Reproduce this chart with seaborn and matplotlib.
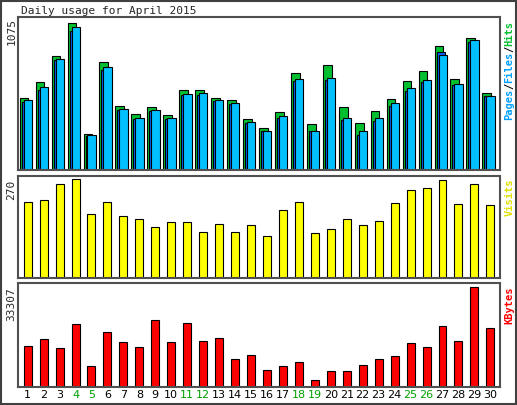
import numpy as np
import pandas as pd
import matplotlib
matplotlib.use("Agg")
import matplotlib.pyplot as plt
import seaborn as sns

days = list(range(1, 31))
weekend = [4, 5, 11, 12, 18, 19, 25, 26]
hits = [526, 645, 830, 1075, 267, 786, 467, 408, 460, 400, 586, 586, 526, 512, 371,
        311, 423, 707, 334, 764, 460, 341, 432, 519, 652, 726, 904, 667, 964, 563]
files = [511, 608, 815, 1045, 259, 756, 445, 378, 437, 378, 556, 563, 511, 489, 348,
         289, 393, 667, 282, 675, 378, 289, 378, 489, 600, 660, 838, 630, 949, 541]
pages = [497, 586, 803, 1016, 252, 734, 440, 371, 430, 371, 549, 549, 504, 482, 341,
         289, 380, 652, 282, 660, 363, 259, 355, 465, 578, 647, 865, 623, 934, 541]
visits = [207, 213, 256, 270, 173, 207, 168, 159, 139, 153, 151, 125, 148, 125, 145,
          114, 185, 207, 122, 134, 159, 145, 156, 205, 239, 244, 267, 202, 256, 199]
kbytes = [13677, 16132, 12976, 21042, 7014, 18236, 15080, 13327, 22445, 15080, 21393,
          15431, 16483, 9469, 10872, 5611, 7014, 8417, 2455, 5261, 5261, 7365, 9469,
          10521, 14729, 13327, 20341, 15431, 33307, 19639]

sns.set_style("white")
mono = "DejaVu Sans Mono"

fig = plt.figure(figsize=(5.17, 4.05), dpi=100)
fig.patch.set_facecolor("white")
fig.patches.append(plt.Rectangle((0.002, 0.003), 0.996, 0.994, transform=fig.transFigure,
                                 fill=False, edgecolor="#404040", linewidth=1.5))

ax1 = fig.add_axes([0.035, 0.580, 0.932, 0.378])
ax2 = fig.add_axes([0.035, 0.314, 0.932, 0.252])
ax3 = fig.add_axes([0.035, 0.044, 0.932, 0.257])

x = np.arange(30)
ax1.bar(x - 0.5, hits, width=0.55, align="edge", color="#00C030", edgecolor="black", linewidth=0.8)
ax1.bar(x - 0.375, pages, width=0.52, align="edge", color="#0060FF", edgecolor="black", linewidth=0.8)
ax1.bar(x - 0.25, files, width=0.52, align="edge", color="#00C0FF", edgecolor="black", linewidth=0.8)
ax1.set_ylim(0, 1075 * 1.04)

df = pd.DataFrame({"day": days, "visits": visits, "kbytes": kbytes})
sns.barplot(data=df, x="day", y="visits", ax=ax2, color="#FFFF00", saturation=1,
            width=0.5, edgecolor="black", linewidth=0.8)
ax2.set_ylim(0, 270 * 1.03)
sns.barplot(data=df, x="day", y="kbytes", ax=ax3, color="#FF0000", saturation=1,
            width=0.5, edgecolor="black", linewidth=0.8)
ax3.set_ylim(0, 33307 * 1.04)

for ax in (ax1, ax2, ax3):
    ax.set_xlim(-0.6, 29.6)
    ax.set_yticks([])
    ax.set_xlabel("")
    ax.set_ylabel("")
    for s in ax.spines.values():
        s.set_color("#505050")
        s.set_linewidth(1.5)

ax1.set_xticks([])
ax2.set_xticks([])
ax3.set_xticks(x)
ax3.set_xticklabels([str(d) for d in days], fontsize=8)
ax3.tick_params(axis="x", length=0, pad=2)
for lab, d in zip(ax3.get_xticklabels(), days):
    lab.set_color("#00A000" if d in weekend else "black")

fig.text(0.040, 0.985, "Daily usage for April 2015", fontsize=8, family=mono, va="top")
fig.text(0.012, 0.955, "1075", fontsize=8, family=mono, rotation=90, va="top", ha="left")
fig.text(0.012, 0.555, "270", fontsize=8, family=mono, rotation=90, va="top", ha="left")
fig.text(0.012, 0.290, "33307", fontsize=8, family=mono, rotation=90, va="top", ha="left")

# right side legends, drawn bottom to top
def vlabel(parts, y0):
    y = y0
    for txt, col in parts:
        fig.text(0.985, y, txt, fontsize=7.5, family=mono, rotation=90,
                 color=col, va="bottom", ha="center", fontweight="bold")
        y += len(txt) * 6.2 / 405

vlabel([("Pages", "#00A0FF"), ("/", "black"), ("Files", "#00A0FF"), ("/", "black"), ("Hits", "#00C030")], 1 - 120 / 405)
vlabel([("Visits", "#E0E000")], 1 - 216 / 405)
vlabel([("KBytes", "#FF0000")], 1 - 324 / 405)

fig.savefig("out.png", dpi=100)
